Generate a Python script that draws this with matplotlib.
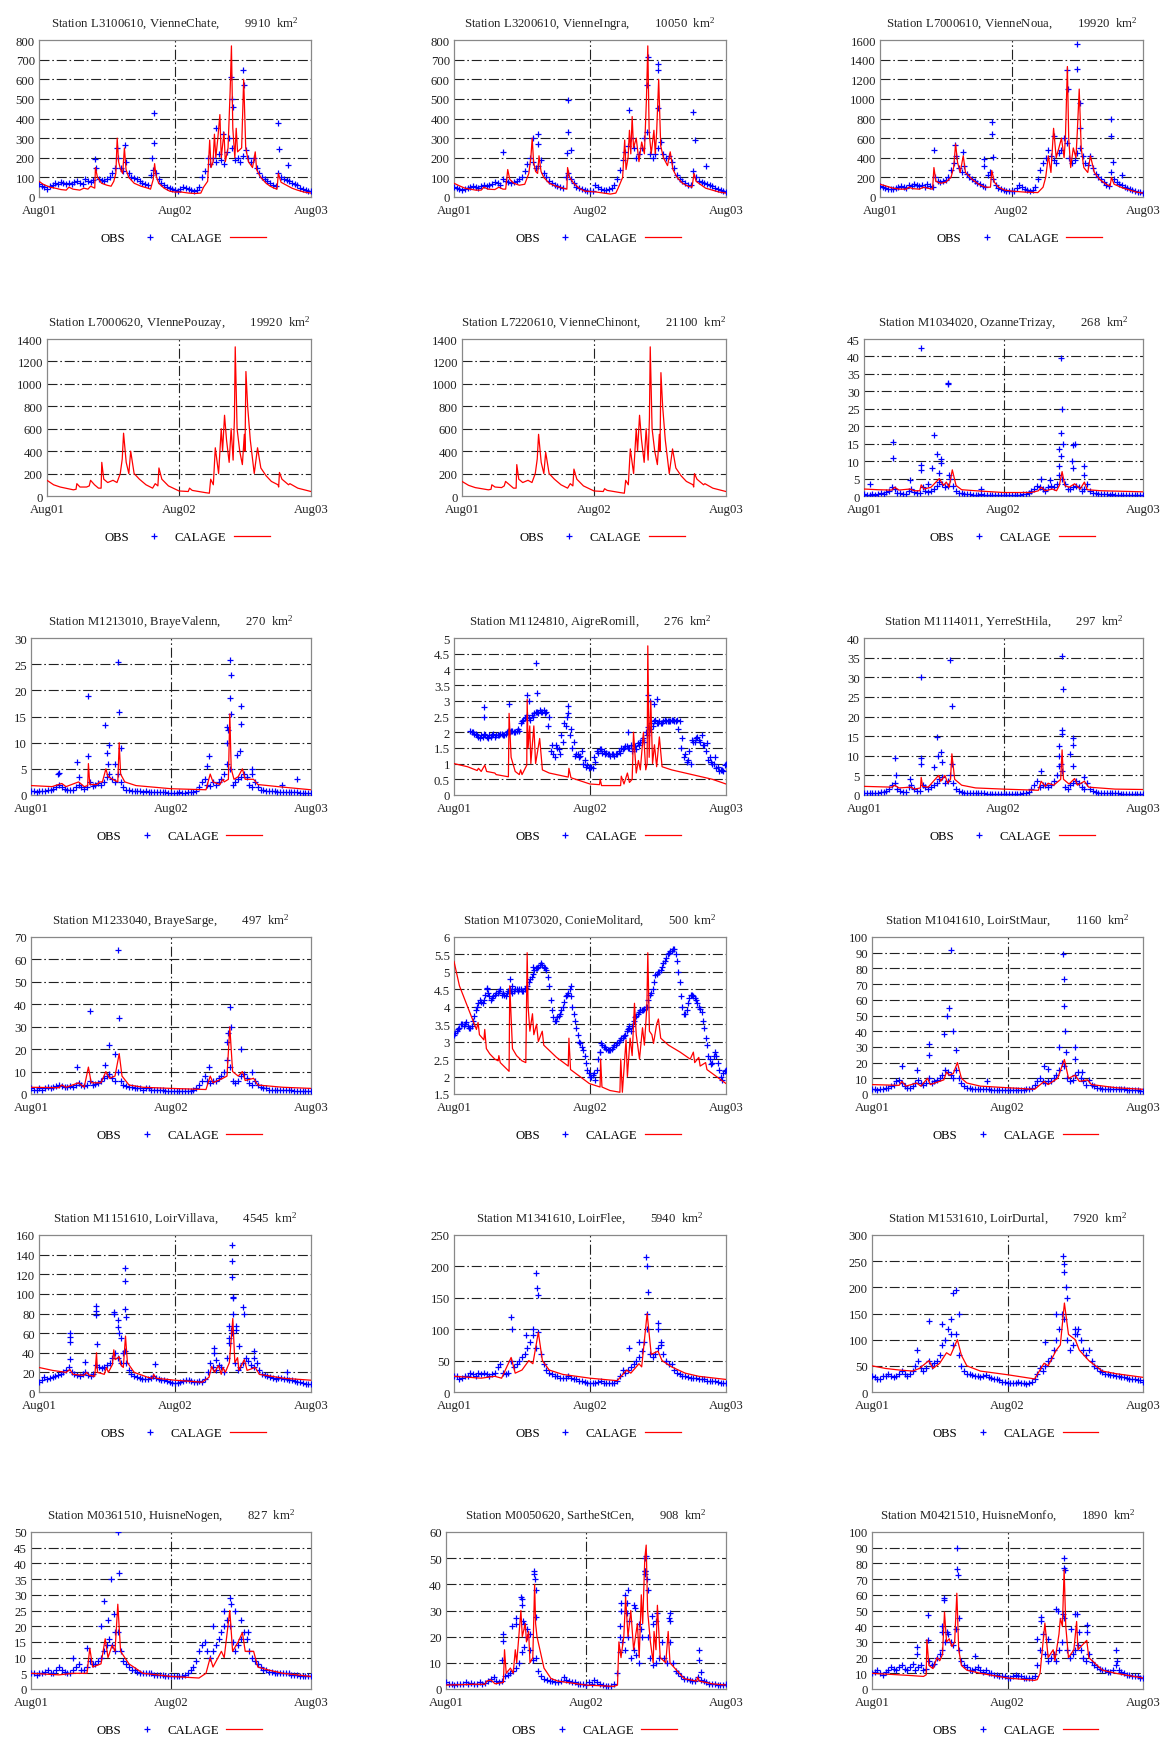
import numpy as np
import matplotlib
matplotlib.use("Agg")
import matplotlib.pyplot as plt
from matplotlib.lines import Line2D

plt.rcParams['font.family'] = ['Liberation Serif', 'DejaVu Serif']
plt.rcParams['mathtext.fontset'] = 'custom'
plt.rcParams['mathtext.rm'] = 'Liberation Serif'
plt.rcParams['mathtext.it'] = 'Liberation Serif:italic'

# ---------------- station metadata ----------------
CODES = ["L3100610", "L3200610", "L7000610", "L7000620", "L7220610", "M1034020",
         "M1213010", "M1124810", "M1114011", "M1233040", "M1073020", "M1041610",
         "M1151610", "M1341610", "M1531610", "M0361510", "M0050620", "M0421510"]
NAMES = ["VienneChate", "VienneIngra", "VienneNoua", "VIennePouzay", "VienneChinont", "OzanneTrizay",
         "BrayeValenn", "AigreRomill", "YerreStHila", "BrayeSarge", "ConieMolitard", "LoirStMaur",
         "LoirVillava", "LoirFlee", "LoirDurtal", "HuisneNogen", "SartheStCen", "HuisneMonfo"]
AREAS = ["9910", "10050", "19920", "19920", "21100", "268",
         "270", "276", "297", "497", "500", "1160",
         "4545", "5940", "7920", "827", "908", "1890"]
Y_MIN = [0, 0, 0, 0, 0, 0, 0, 0, 0, 0, 1.5, 0, 0, 0, 0, 0, 0, 0]
Y_MAX = [800, 800, 1600, 1400, 1400, 45, 30, 5, 40, 70, 6, 100, 160, 250, 300, 50, 60, 100]
Y_STEP = [100, 100, 200, 200, 200, 5, 5, 0.5, 5, 10, 0.5, 10, 20, 50, 50, 5, 10, 10]
X_TICKS = [0, 1, 2]
X_TICK_LABELS = ["Aug01", "Aug02", "Aug03"]
LEGEND_LABELS = ["OBS", "CALAGE"]

nan = float("nan")

# ---------------- observed series (regular time step over Aug01-Aug03) ----------------
OBS_01 = [65,55,50,40,55,60,70,65,75,70,65,
          70,65,75,80,70,65,90,80,75,85,
          150,90,85,80,90,100,120,150,200,150,
          130,180,120,100,95,90,80,70,65,60,
          110,140,120,90,70,60,50,45,40,35,
          30,40,50,45,40,35,30,35,50,100,
          130,200,170,200,180,220,190,170,230,300,
          250,190,200,180,210,240,200,180,200,150,
          120,100,90,80,70,60,55,120,100,90,
          85,80,70,65,60,45,40,35,30,30]
OBS_02 = [50,45,40,35,40,45,50,55,50,45,55,
          60,55,60,65,75,70,60,90,80,75,
          70,75,80,90,100,130,170,200,180,150,
          160,190,120,100,80,70,60,55,50,45,
          100,120,90,70,50,45,40,35,30,30,
          30,60,50,40,35,35,40,45,60,90,
          140,190,230,260,300,250,200,220,250,300,
          330,220,200,220,250,280,220,200,210,180,
          150,110,90,80,70,60,60,130,100,80,
          75,70,65,60,55,45,40,35,30,28]
OBS_03 = [110,100,90,85,80,85,90,100,110,100,95,
          120,110,130,120,110,120,100,130,110,100,
          200,160,150,160,170,200,280,350,420,300,
          250,320,230,200,180,160,140,130,110,100,
          220,250,180,120,90,80,70,65,60,60,
          60,90,120,100,80,70,60,70,100,180,
          280,350,400,480,420,380,350,450,480,600,
          550,400,350,380,450,500,420,350,330,420,
          300,230,200,180,150,120,110,250,180,150,
          130,120,100,90,80,70,60,55,50,45]
OBS_04 = []
OBS_05 = []
OBS_06 = [0.5,0.4,0.3,0.5,0.4,0.6,0.8,0.7,1.2,1.5,2.5,
          2.0,1.0,0.8,0.6,0.5,1.5,2.0,1.2,0.8,1.0,
          2.5,1.5,1.2,1.5,2.0,3.0,4.0,3.5,2.5,3.0,
          5.0,3.0,1.5,1.0,0.8,0.6,0.5,0.5,0.4,0.4,
          0.4,0.5,0.4,0.3,0.3,0.3,0.3,0.3,0.3,0.3,
          0.3,0.3,0.4,0.3,0.3,0.4,0.5,0.6,0.8,1.5,
          2.0,3.0,2.5,2.0,1.5,2.5,3.0,2.5,3.5,6.0,
          5.0,3.5,2.0,2.0,2.5,3.0,2.5,1.5,2.0,3.5,
          1.5,1.0,0.8,0.6,0.5,0.5,0.5,0.4,0.5,0.4,
          0.4,0.3,0.4,0.3,0.3,0.3,0.3,0.3,0.2,0.2]
OBS_07 = [0.8,0.7,0.6,0.8,0.7,0.8,0.9,1.0,1.2,1.5,2.0,
          1.5,1.2,1.0,0.9,1.0,1.5,2.0,1.5,1.2,1.5,
          2.5,1.8,2.0,2.2,2.0,2.5,3.5,4.0,3.0,2.5,
          4.0,2.5,1.5,1.0,0.9,0.8,0.8,0.7,0.7,0.6,
          0.7,0.6,0.6,0.5,0.6,0.5,0.5,0.5,0.4,0.4,
          0.4,0.4,0.5,0.4,0.4,0.5,0.5,0.6,0.8,1.5,
          2.5,3.0,2.0,1.8,2.5,2.0,2.5,3.0,4.0,6.0,
          5.0,2.0,2.5,3.0,3.5,4.0,3.5,2.0,1.5,2.5,
          1.5,1.0,0.9,0.8,0.8,0.7,0.7,0.6,0.6,0.6,
          0.6,0.5,0.5,0.5,0.5,0.4,0.4,0.4,0.4,0.4]
OBS_08 = [nan,nan,nan,nan,nan,nan,2.05,2.0,1.95,1.85,1.9,
          1.95,1.85,1.9,1.9,1.85,1.9,1.95,1.9,1.95,2.05,
          2.05,2.0,2.05,2.05,2.35,2.45,2.55,2.4,2.5,2.65,
          2.6,2.65,2.7,2.65,2.5,1.6,1.2,1.5,1.3,1.7,
          2.2,2.6,2.1,1.7,1.3,1.2,1.4,1.1,0.95,0.9,
          0.85,1.05,1.35,1.45,1.4,1.35,1.3,1.3,1.25,1.3,
          1.35,1.45,1.55,1.5,1.6,1.45,1.45,1.6,1.75,1.7,
          1.9,2.1,2.2,2.4,2.3,2.3,2.35,2.35,2.35,2.4,
          2.35,2.4,2.35,1.8,1.3,1.1,1.0,1.7,1.8,1.75,
          1.9,1.6,1.65,1.2,1.0,1.2,0.9,0.8,0.75,1.0]
OBS_09 = [0.5,0.5,0.4,0.5,0.5,0.6,0.7,0.8,1.0,1.5,2.5,
          3.0,1.5,1.0,0.8,0.7,2.0,2.5,1.5,1.0,1.0,
          2.5,2.0,1.5,2.0,2.5,3.0,4.0,4.5,3.0,3.5,
          5.0,3.0,1.5,1.0,0.8,0.6,0.5,0.5,0.5,0.4,
          0.4,0.4,0.4,0.3,0.3,0.3,0.3,0.3,0.3,0.3,
          0.3,0.3,0.3,0.3,0.3,0.3,0.4,0.5,0.8,1.5,
          2.5,3.5,2.0,2.5,2.5,2.0,2.5,3.5,5.0,7.5,
          6.0,2.0,1.5,2.5,3.0,3.5,3.0,2.0,1.5,3.0,
          1.5,1.0,0.7,0.6,0.5,0.5,0.4,0.4,0.4,0.4,
          0.4,0.3,0.3,0.3,0.3,0.3,0.3,0.3,0.3,0.3]
OBS_10 = [2.5,2.0,2.0,2.5,2.0,2.5,3.0,2.5,3.0,3.5,4.0,
          3.5,3.0,3.0,3.5,3.0,4.0,5.0,4.0,3.5,4.0,
          6.0,4.0,4.5,5.0,6.0,7.0,8.0,9.0,7.0,6.0,
          10.0,6.0,4.0,3.5,3.0,3.0,2.5,2.5,2.5,2.0,
          2.5,2.5,2.0,2.0,2.0,2.0,2.0,1.5,1.5,1.5,
          1.5,1.5,1.5,1.5,1.5,1.5,1.5,2.0,2.5,4.0,
          6.0,8.0,6.0,5.0,6.0,6.0,7.0,8.0,10.0,15.0,
          12.0,6.0,5.0,6.0,8.0,9.0,7.0,5.0,4.0,6.0,
          4.0,3.0,2.5,2.5,2.0,2.0,2.0,2.0,2.0,2.0,
          2.0,2.0,2.0,1.5,1.5,1.5,1.5,1.5,1.5,1.5]
OBS_11 = [3.2,3.3,3.4,3.5,3.5,3.45,3.4,3.6,3.9,4.1,4.15,
          4.2,4.5,4.3,4.25,4.35,4.4,4.5,4.4,4.3,4.45,
          4.45,4.45,4.5,4.5,4.45,4.5,4.6,4.8,4.95,5.1,
          5.15,5.25,5.15,5.05,4.6,3.9,3.6,3.7,3.8,4.0,
          4.3,4.4,4.3,3.8,3.4,3.0,2.85,2.6,2.2,2.0,
          2.05,1.9,2.5,2.95,2.85,2.8,2.75,2.8,2.9,2.95,
          3.05,3.1,3.2,3.35,3.3,3.6,3.75,3.85,3.9,3.95,
          4.0,4.35,4.5,4.9,5.0,5.05,5.25,5.4,5.55,5.6,
          5.65,5.3,4.7,4.0,3.8,4.1,4.35,4.3,4.2,4.0,
          3.85,3.4,2.9,2.5,2.4,2.7,2.4,2.0,2.1,2.2]
OBS_12 = [3,3,2.5,3,3,4,4,5,6,8,9,
          7,5,4,4,5,7,9,7,6,7,
          10,7,8,9,10,12,15,14,12,10,
          15,10,7,5,4,4,3.5,3,3,3,
          3,3,3,2.5,2.5,2.5,2.5,2.5,2.5,2.5,
          2.5,2.5,2.5,2.5,2.5,2.5,3,3.5,4,6,
          8,10,8,7,8,8,10,12,15,20,
          18,10,8,9,12,14,10,8,6,9,
          6,5,4,4,3.5,3.5,3,3,3,3,
          3,3,3,2.5,2.5,2.5,2.5,2.5,2,2]
OBS_13 = [10,12,15,13,14,15,16,17,18,20,22,
          25,20,18,17,16,18,20,17,16,18,
          28,25,24,25,28,30,35,40,35,30,
          40,30,22,18,16,15,14,13,13,13,
          14,16,14,13,12,12,11,10,9,9,
          9,10,11,12,12,11,10,10,11,10,
          13,20,30,25,22,28,25,20,35,50,
          60,30,22,25,30,35,32,28,25,30,
          22,18,17,16,15,14,13,14,14,13,
          13,12,12,11,10,10,9,8,8,8]
OBS_14 = [25,25,20,22,25,25,30,28,25,30,28,
          30,28,25,28,30,40,45,30,28,30,
          50,40,45,50,55,60,70,80,90,70,
          95,60,45,35,30,28,25,25,22,22,
          22,25,22,20,20,18,18,16,15,15,
          15,15,16,18,15,15,14,14,15,18,
          25,35,30,35,40,45,50,55,65,80,
          100,60,55,60,70,75,60,50,45,45,
          35,30,28,26,25,24,23,22,22,20,
          20,20,18,18,17,17,16,15,15,14]
OBS_15 = [30,28,25,25,30,30,35,30,28,30,35,
          40,35,30,35,40,50,60,45,40,45,
          60,50,55,60,70,90,100,120,110,90,
          110,70,50,40,35,35,32,30,30,28,
          30,32,28,26,25,24,22,20,20,18,
          18,17,18,20,18,17,16,18,20,25,
          35,45,40,50,60,65,80,100,120,150,
          140,100,80,90,110,120,100,80,70,80,
          60,50,45,40,38,35,35,33,32,30,
          30,28,28,27,25,25,24,22,22,20]
OBS_16 = [5,5,4.5,5,5,5.5,6,5,5,6,7,
          6,5.5,5,5,6,7,8,6,6,7,
          9,8,8,9,10,12,14,16,14,12,
          18,12,9,8,7,6,6,5.5,5,5,
          5,5,5,4.5,4.5,4.5,4.5,4,4,4,
          4,4,4,4,4.5,5,6,7,9,12,
          14,15,12,10,12,14,16,18,20,22,
          20,15,12,14,16,18,16,12,10,9,
          8,7,6,6,5.5,5.5,5,5,5,5,
          5,5,4.5,4.5,4.5,4,4,4,4,4]
OBS_17 = [2.5,2.0,1.8,1.5,2.0,1.8,2.0,2.5,2.0,2.2,2.0,
          2.0,2.5,2.0,2.2,3.0,4.0,4.5,3.0,2.5,3.0,
          5.0,5.5,6.0,7.0,8.0,10.0,14.0,16.0,20.0,15.0,
          11.0,12.0,7.0,5.0,4.0,3.5,3.0,3.0,2.8,2.5,
          3.0,4.5,3.5,3.0,2.5,2.5,2.0,2.0,1.8,1.5,
          2.5,2.0,3.5,2.5,2.0,1.5,1.2,1.0,1.2,2.0,
          6.0,14.0,18.0,15.0,20.0,12.0,15.0,13.0,10.0,20.0,
          45.0,20.0,12.0,9.0,10.0,12.0,18.0,12.0,10.0,18.0,
          10.0,7.0,6.0,5.0,4.0,4.0,3.5,3.0,3.0,4.5,
          3.5,3.0,2.5,2.0,2.0,1.8,1.5,1.5,1.5,2.0]
OBS_18 = [10,11,12,10,9,11,12,14,13,12,14,
          15,13,12,14,16,12,14,15,12,13,
          18,15,16,20,22,25,30,35,30,28,
          38,25,18,15,14,12,12,13,14,12,
          11,12,10,10,9,9,8,8,8,7,
          7,8,9,8,8,7,7,7,7,8,
          15,25,35,22,18,20,22,18,25,30,
          45,25,20,22,25,28,25,20,18,22,
          17,15,14,13,12,12,11,11,12,15,
          12,11,10,9,9,8,8,8,7,7]

# extra observations between the regular steps (dense gauges)
OBS_08_MID = [nan,nan,nan,nan,nan,nan,2.0,1.95,1.9,1.8,
              1.85,1.9,1.8,1.85,1.95,1.9,1.9,1.95,1.9,2.0,
              2.0,2.05,2.0,2.1,2.3,2.4,2.5,2.45,2.55,2.6,
              2.65,2.7,2.65,2.6,2.2,1.4,1.3,1.6,1.45,1.9,
              2.3,2.5,1.9,1.5,1.25,1.3,1.25,1.0,0.9,0.85,
              0.9,1.2,1.4,1.45,1.35,1.3,1.3,1.25,1.3,1.3,
              1.4,1.5,1.5,1.55,1.5,1.4,1.55,1.65,1.7,1.8,
              2.0,2.15,2.3,2.35,2.3,2.35,2.3,2.4,2.35,2.35,
              2.4,2.35,2.1,1.5,1.2,1.05,1.4,1.75,1.7,1.85,
              1.7,1.6,1.4,1.1,1.05,1.0,0.85,0.75,0.8,0.95]
OBS_11_MID = [3.25,3.35,3.5,3.45,3.55,3.4,3.45,3.75,4.0,4.2,
              4.1,4.35,4.4,4.2,4.3,4.4,4.45,4.35,4.35,4.4,
              4.5,4.4,4.5,4.45,4.5,4.45,4.55,4.7,4.85,5.05,
              5.1,5.2,5.2,5.1,4.85,4.2,3.7,3.6,3.75,3.9,
              4.15,4.35,4.5,4.0,3.6,3.2,2.95,2.75,2.4,2.1,
              2.0,2.1,2.2,2.7,2.9,2.85,2.75,2.75,2.85,2.9,
              3.0,3.1,3.15,3.3,3.4,3.45,3.7,3.8,3.9,3.9,
              4.0,4.2,4.4,4.7,4.95,5.0,5.15,5.3,5.5,5.6,
              5.65,5.5,5.0,4.3,3.8,3.9,4.25,4.35,4.25,4.1,
              3.95,3.6,3.1,2.6,2.35,2.6,2.6,2.2,1.9,2.15]

# ---------------- isolated observed flood values (day, value) ----------------
PEAKS_01 = [(0.415,195),(0.575,250),(0.63,265),(0.845,430),(0.845,275),(0.83,200),(1.41,610),(1.42,500),
            (1.5,645),(1.51,570),(1.76,375),(1.765,245),(1.83,165),(1.3,350),(1.35,320),(1.43,460)]
PEAKS_02 = [(0.36,230),(0.58,300),(0.62,320),(0.62,270),(0.83,225),(0.84,495),(0.84,330),(0.86,240),
            (1.29,445),(1.43,715),(1.42,570),(1.5,680),(1.5,645),(1.5,455),(1.76,435),(1.77,290),(1.85,160)]
PEAKS_03 = [(0.41,480),(0.57,530),(0.63,460),(0.79,390),(0.79,320),(0.85,760),(0.855,640),(0.86,410),
            (1.32,620),(1.42,1290),(1.43,1100),(1.5,1560),(1.5,1300),(1.52,960),(1.52,700),(1.76,800),
            (1.76,620),(1.77,360),(1.84,220)]
PEAKS_04 = []
PEAKS_05 = []
PEAKS_06 = [(0.21,15.5),(0.21,11),(0.04,3.5),(0.33,4.5),(0.41,9),(0.41,7.5),(0.5,17.5),(0.52,12),(0.46,3.5),
            (0.55,10.5),(0.55,9.5),(0.49,8),(0.54,6.5),(0.6,32.5),(0.6,32),(0.61,6),(0.84,2),(0.41,42.5),
            (1.41,39.5),(1.42,25),(1.415,18),(1.43,15),(1.4,13.5),(1.41,11.5),(1.4,8.5),(1.5,14.5),
            (1.51,15),(1.49,10),(1.5,8),(1.58,8.5),(1.58,6),(1.27,5),(1.33,4.5)]
PEAKS_07 = [(0.19,4),(0.33,6.3),(0.41,19),(0.41,7.5),(0.53,13.3),(0.54,8),(0.56,9.5),(0.62,25.5),(0.63,15.8),
            (0.64,9),(0.6,6),(0.55,6),(0.34,3.5),(1.27,7.5),(1.26,5.5),(1.4,13),(1.41,12.5),(1.42,25.8),
            (1.425,23),(1.42,18.5),(1.43,15.5),(1.4,10),(1.5,17),(1.5,13.5),(1.49,8.5),(1.47,7.7),(1.58,5),
            (1.58,4),(1.79,2),(1.9,3),(0.2,4.2)]
PEAKS_08 = [(0.22,2.8),(0.22,2.5),(0.405,2.9),(0.535,3.2),(0.55,3.0),(0.6,4.2),(0.61,3.25),(0.84,2.85),
            (1.43,3.2),(1.44,3.0),(1.47,2.9),(1.49,3.05),(1.28,2.0)]
PEAKS_09 = [(0.22,9.5),(0.23,5),(0.33,4),(0.41,30),(0.41,9.5),(0.41,8),(0.52,14.7),(0.53,10),(0.55,11),
            (0.56,8.5),(0.5,7.2),(0.62,34.5),(0.63,22.8),(0.63,8),(1.27,6),(1.4,12.5),(1.4,10),(1.42,35.3),
            (1.425,27),(1.42,16.5),(1.42,15.5),(1.41,7.8),(1.48,10.5),(1.5,14.5),(1.5,12.8),(1.5,7.5),(1.58,4.5)]
PEAKS_10 = [(0.42,37),(0.56,22),(0.6,18),(0.62,64),(0.63,34),(0.53,13),(0.33,12),(1.4,23),(1.42,39),
            (1.43,30),(1.41,27),(1.5,20),(1.27,12),(1.58,10)]
PEAKS_11 = [(0.24,4.55),(0.41,4.8),(0.43,4.6),(0.58,5.15),(0.86,4.6),(1.07,2.7),(1.29,3.45)]
PEAKS_12 = [(0.22,18),(0.33,15),(0.42,32),(0.42,25),(0.53,38),(0.55,50),(0.57,55),(0.58,92),(0.6,40),
            (0.62,28),(0.85,8),(1.27,18),(1.3,16),(1.38,30),(1.41,89),(1.415,73),(1.42,56),(1.425,40),
            (1.43,27),(1.5,30),(1.5,22),(1.55,14)]
PEAKS_13 = [(0.23,60),(0.23,56),(0.23,51),(0.23,34),(0.34,31),(0.42,88),(0.42,83),(0.42,78),(0.43,49),
            (0.55,82),(0.555,80),(0.58,73),(0.58,66),(0.59,60),(0.6,55),(0.63,126),(0.63,113),(0.63,85),
            (0.64,76),(0.63,42),(0.85,29),(1.29,45),(1.29,40),(1.3,33),(1.4,67),(1.41,63),(1.42,150),
            (1.42,134),(1.42,117),(1.425,96),(1.43,97),(1.43,80),(1.45,67),(1.45,63),(1.47,47),(1.5,87),
            (1.51,80),(1.58,42),(1.58,35),(1.82,20),(1.4,55)]
PEAKS_14 = [(0.42,120),(0.43,100),(0.53,90),(0.6,190),(0.61,165),(0.62,155),(0.58,100),(1.29,70),(1.36,80),
            (1.41,215),(1.42,200),(1.43,160),(1.42,125),(1.5,110),(1.5,100),(1.52,80)]
PEAKS_15 = [(0.42,135),(0.52,130),(0.58,140),(0.6,190),(0.62,195),(0.64,150),(0.33,80),(1.28,95),(1.36,150),
            (1.41,260),(1.415,245),(1.42,230),(1.43,200),(1.44,180),(1.5,120),(1.51,110)]
PEAKS_16 = [(0.3,10),(0.4,13),(0.5,20),(0.52,28),(0.55,22),(0.57,35),(0.59,24),(0.62,50),(0.63,37),(0.6,18),
            (1.3,20),(1.38,25),(1.42,29),(1.43,27),(1.46,25),(1.5,22),(1.55,18)]
PEAKS_17 = [(0.41,21),(0.41,18.5),(0.4,11),(0.47,24),(0.5,27),(0.5,25),(0.535,35),(0.54,34.5),(0.54,32),
            (0.55,26),(0.56,25),(0.58,23),(0.63,45),(0.63,44),(0.635,42),(0.64,38),(0.64,27.5),(0.6,21),
            (1.25,33),(1.25,30),(1.24,24),(1.24,20),(1.28,36),(1.29,33),(1.3,38),(1.29,29),(1.31,26),
            (1.34,32),(1.35,31),(1.38,25),(1.39,23),(1.42,50),(1.43,51),(1.425,45),(1.42,44),(1.435,42),
            (1.44,38),(1.47,28),(1.48,25),(1.51,29),(1.5,26),(1.59,27),(1.6,29),(1.6,26),(1.81,15),
            (1.81,11),(1.82,6.5)]
PEAKS_18 = [(0.33,27),(0.33,22),(0.41,47),(0.41,31),(0.52,36),(0.52,40),(0.535,57),(0.535,58),(0.55,36),
            (0.63,90),(0.63,76.5),(0.635,72.5),(0.64,45),(0.76,21),(1.22,32),(1.25,46),(1.25,43),(1.3,32),
            (1.36,51),(1.37,50),(1.42,83.5),(1.42,77),(1.425,76),(1.41,48),(1.47,38),(1.5,48),(1.51,48),
            (1.53,36),(1.59,41),(1.59,36),(1.8,25),(1.81,18)]

# ---------------- simulated series CALAGE (day, value) ----------------
CAL_01 = [(0.00,80),(0.03,65),(0.08,50),(0.12,45),(0.16,38),(0.2,35),(0.22,50),(0.25,40),(0.3,35),(0.33,45),
          (0.36,40),(0.38,55),(0.41,45),(0.415,150),(0.43,100),(0.46,70),(0.5,60),(0.53,55),(0.55,80),
          (0.565,120),(0.575,300),(0.585,180),(0.6,140),(0.615,120),(0.628,250),(0.64,140),(0.66,100),
          (0.7,70),(0.75,55),(0.8,45),(0.82,40),(0.84,90),(0.85,170),(0.86,110),(0.88,70),(0.92,45),
          (0.96,30),(1.0,25),(1.05,25),(1.1,20),(1.15,18),(1.19,20),(1.21,50),(1.24,80),(1.255,290),
          (1.265,150),(1.28,180),(1.29,320),(1.3,200),(1.315,300),(1.33,420),(1.34,200),(1.36,330),
          (1.37,180),(1.39,250),(1.405,530),(1.415,770),(1.425,350),(1.44,200),(1.45,350),(1.46,230),
          (1.49,250),(1.505,600),(1.52,250),(1.54,180),(1.57,150),(1.59,230),(1.6,140),(1.63,100),
          (1.67,70),(1.7,55),(1.73,45),(1.75,40),(1.76,120),(1.78,75),(1.82,60),(1.86,45),(1.9,35),
          (1.95,25),(2.0,20)]
CAL_02 = [(0.00,70),(0.03,60),(0.08,45),(0.12,40),(0.16,35),(0.2,35),(0.22,50),(0.25,40),(0.3,38),(0.33,50),
          (0.36,40),(0.38,40),(0.395,140),(0.41,90),(0.44,70),(0.48,60),(0.52,65),(0.55,120),(0.565,200),
          (0.575,300),(0.585,180),(0.6,130),(0.615,120),(0.625,210),(0.64,130),(0.66,100),(0.7,70),
          (0.75,55),(0.8,45),(0.83,40),(0.835,150),(0.85,100),(0.88,70),(0.92,45),(0.96,30),(1.0,28),
          (1.05,25),(1.1,20),(1.15,15),(1.19,20),(1.21,50),(1.24,100),(1.255,290),(1.265,140),(1.28,200),
          (1.29,340),(1.3,220),(1.31,410),(1.32,250),(1.34,300),(1.36,180),(1.38,280),(1.4,220),
          (1.415,500),(1.425,770),(1.435,330),(1.45,220),(1.47,340),(1.48,220),(1.49,330),(1.505,600),
          (1.52,260),(1.54,200),(1.57,160),(1.59,230),(1.61,140),(1.64,100),(1.68,70),(1.72,55),
          (1.75,50),(1.765,120),(1.78,80),(1.82,60),(1.85,45),(1.9,35),(1.95,25),(2.0,20)]
CAL_03 = [(0.0,130),(0.05,110),(0.1,90),(0.15,80),(0.2,80),(0.22,100),(0.25,85),(0.3,80),(0.33,100),(0.36,90),
          (0.4,80),(0.41,300),(0.425,160),(0.46,140),(0.5,150),(0.54,200),(0.56,300),(0.575,540),(0.59,350),
          (0.61,250),(0.633,420),(0.65,250),(0.7,180),(0.75,130),(0.8,100),(0.84,100),(0.85,270),(0.87,150),
          (0.9,100),(0.95,70),(1.0,60),(1.1,50),(1.2,45),(1.24,100),(1.26,200),(1.28,420),(1.3,250),
          (1.32,700),(1.34,400),(1.36,500),(1.38,600),(1.4,400),(1.41,600),(1.425,1330),(1.435,600),
          (1.45,300),(1.47,500),(1.49,400),(1.5,650),(1.515,1100),(1.53,500),(1.55,300),(1.58,250),
          (1.6,420),(1.63,250),(1.67,180),(1.72,130),(1.75,110),(1.76,200),(1.78,130),(1.85,90),(1.9,70),
          (1.95,50),(2.0,40)]
CAL_04 = [(0.0,140),(0.05,100),(0.1,80),(0.2,55),(0.22,60),(0.226,110),(0.25,80),(0.3,80),(0.32,90),(0.33,140),
          (0.36,100),(0.39,70),(0.41,70),(0.415,300),(0.43,150),(0.46,120),(0.5,140),(0.53,120),(0.555,200),
          (0.57,330),(0.58,560),(0.6,300),(0.62,200),(0.634,400),(0.66,200),(0.7,150),(0.75,100),(0.8,70),
          (0.82,110),(0.84,90),(0.848,250),(0.87,150),(0.92,90),(1.0,45),(1.07,40),(1.08,70),(1.1,50),
          (1.2,30),(1.23,25),(1.24,150),(1.26,100),(1.275,430),(1.3,200),(1.32,600),(1.33,400),(1.345,720),
          (1.36,500),(1.38,300),(1.395,600),(1.41,320),(1.42,700),(1.426,1330),(1.44,600),(1.46,400),
          (1.48,280),(1.495,550),(1.5,400),(1.507,1110),(1.52,800),(1.54,500),(1.57,200),(1.595,430),
          (1.62,250),(1.66,180),(1.7,130),(1.75,100),(1.755,80),(1.761,210),(1.78,150),(1.83,100),
          (1.84,110),(1.9,70),(2.0,40)]
CAL_05 = [(0.0,130),(0.05,95),(0.1,75),(0.2,55),(0.22,60),(0.226,100),(0.25,80),(0.3,75),(0.32,90),(0.33,130),
          (0.36,100),(0.39,70),(0.41,70),(0.415,280),(0.43,150),(0.46,120),(0.5,140),(0.53,120),(0.555,200),
          (0.57,330),(0.58,550),(0.6,300),(0.62,200),(0.634,390),(0.66,200),(0.7,150),(0.75,100),(0.8,70),
          (0.82,110),(0.84,90),(0.848,240),(0.87,150),(0.92,90),(1.0,45),(1.07,40),(1.08,65),(1.1,50),
          (1.2,30),(1.23,25),(1.24,140),(1.26,100),(1.275,420),(1.3,200),(1.32,600),(1.33,400),(1.345,720),
          (1.36,500),(1.38,300),(1.395,600),(1.41,320),(1.42,700),(1.426,1330),(1.44,600),(1.46,400),
          (1.48,280),(1.495,550),(1.5,400),(1.507,1100),(1.52,800),(1.54,500),(1.57,200),(1.595,420),
          (1.62,250),(1.66,180),(1.7,130),(1.75,100),(1.755,80),(1.761,200),(1.78,150),(1.83,100),
          (1.84,110),(1.9,70),(2.0,40)]
CAL_06 = [(0.0,2.0),(0.1,1.8),(0.2,1.7),(0.22,2.5),(0.25,1.7),(0.33,2.0),(0.36,1.5),(0.4,1.5),(0.41,3.2),
          (0.43,2.0),(0.48,2.5),(0.54,5.0),(0.57,3.0),(0.59,4.0),(0.61,2.5),(0.633,7.5),(0.66,3.0),(0.7,1.8),
          (0.8,1.5),(1.0,1.0),(1.2,1.0),(1.25,1.5),(1.27,2.5),(1.3,1.5),(1.35,2.0),(1.38,1.5),(1.4,3.0),
          (1.42,7.0),(1.44,3.0),(1.47,2.5),(1.51,3.5),(1.55,2.0),(1.58,4.0),(1.6,1.8),(1.7,1.5),(2.0,1.2)]
CAL_07 = [(0.0,1.8),(0.15,1.6),(0.22,2.2),(0.25,1.6),(0.34,2.5),(0.38,1.6),(0.405,1.8),(0.41,6.0),(0.42,2.0),
          (0.47,2.0),(0.49,2.5),(0.51,2.5),(0.535,5.0),(0.55,3.5),(0.583,3.0),(0.62,2.5),(0.63,10.0),
          (0.64,4.0),(0.67,2.5),(0.75,1.8),(1.0,1.2),(1.25,1.0),(1.28,4.0),(1.3,2.5),(1.35,2.0),(1.37,3.0),
          (1.38,2.5),(1.41,3.0),(1.42,15.5),(1.43,5.0),(1.45,3.0),(1.48,3.5),(1.51,5.0),(1.53,3.0),
          (1.59,3.0),(1.62,2.0),(1.8,1.5),(2.0,1.0)]
CAL_08 = [(0.0,1.0),(0.1,0.9),(0.17,0.78),(0.18,0.85),(0.2,0.75),(0.226,0.95),(0.24,0.75),(0.3,0.7),
          (0.31,0.65),(0.4,0.58),(0.405,2.6),(0.42,1.2),(0.45,0.75),(0.48,0.65),(0.49,0.8),(0.5,0.65),
          (0.535,0.95),(0.538,3.05),(0.545,1.5),(0.557,2.2),(0.565,1.0),(0.587,2.2),(0.6,1.0),(0.63,1.8),
          (0.65,0.8),(0.7,0.7),(0.84,0.57),(0.845,0.85),(0.86,0.55),(1.0,0.35),(1.07,0.33),(1.075,0.5),
          (1.085,0.3),(1.225,0.3),(1.23,0.6),(1.25,0.35),(1.275,0.7),(1.29,0.4),(1.31,0.5),(1.32,2.0),
          (1.34,0.7),(1.356,1.1),(1.37,0.8),(1.393,2.0),(1.41,0.8),(1.42,1.0),(1.425,4.75),(1.435,1.2),
          (1.447,3.0),(1.46,1.0),(1.474,1.6),(1.49,0.9),(1.51,1.85),(1.53,0.9),(1.6,0.8),(1.8,0.6),
          (1.9,0.5),(2.0,0.35)]
CAL_09 = [(0.0,2.2),(0.2,2.0),(0.22,2.5),(0.25,1.8),(0.335,2.0),(0.36,1.5),(0.405,1.8),(0.41,4.5),(0.42,2.2),
          (0.46,2.0),(0.535,5.0),(0.55,3.5),(0.58,5.0),(0.6,3.0),(0.62,4.0),(0.63,10.5),(0.65,4.0),(0.7,2.5),
          (0.8,1.8),(1.0,1.5),(1.25,1.2),(1.27,3.5),(1.3,2.2),(1.32,3.0),(1.36,2.5),(1.41,4.0),(1.42,11.5),
          (1.43,4.0),(1.47,2.8),(1.51,4.2),(1.53,2.5),(1.58,3.5),(1.61,2.0),(1.8,1.5),(2.0,1.4)]
CAL_10 = [(0.0,3.0),(0.2,2.8),(0.22,4.0),(0.25,3.0),(0.34,5.0),(0.38,3.0),(0.41,12.0),(0.43,5.0),(0.5,5.0),
          (0.535,10.0),(0.56,7.0),(0.6,8.0),(0.63,18.0),(0.65,8.0),(0.7,4.0),(0.8,3.0),(1.0,2.5),(1.25,2.0),
          (1.28,8.0),(1.3,5.0),(1.37,7.0),(1.4,8.0),(1.42,30.0),(1.44,10.0),(1.48,8.0),(1.51,10.0),
          (1.53,6.0),(1.59,7.0),(1.62,4.0),(1.8,3.0),(2.0,2.5)]
CAL_11 = [(0.0,5.3),(0.04,4.6),(0.09,4.1),(0.14,3.6),(0.165,3.35),(0.177,3.55),(0.187,3.2),(0.22,3.05),
          (0.226,3.35),(0.238,2.8),(0.263,2.65),(0.3,2.5),(0.325,2.45),(0.33,2.6),(0.34,2.4),(0.405,2.15),
          (0.41,4.6),(0.43,2.8),(0.46,2.6),(0.5,2.45),(0.528,2.4),(0.538,5.55),(0.545,4.0),(0.558,3.3),
          (0.577,3.8),(0.587,3.2),(0.607,3.5),(0.62,3.0),(0.649,3.3),(0.66,2.9),(0.754,2.55),(0.84,2.3),
          (0.845,3.1),(0.857,2.2),(0.926,2.0),(0.995,1.8),(1.074,1.7),(1.078,2.5),(1.088,1.7),(1.147,1.6),
          (1.22,1.55),(1.226,2.5),(1.238,1.55),(1.265,3.05),(1.275,2.0),(1.295,3.1),(1.31,2.6),(1.327,4.1),
          (1.34,3.2),(1.364,2.5),(1.386,3.4),(1.4,2.9),(1.418,4.0),(1.425,5.55),(1.437,3.3),(1.455,3.2),
          (1.467,2.95),(1.49,3.5),(1.503,3.65),(1.52,3.1),(1.577,2.9),(1.663,2.7),(1.737,2.5),(1.76,2.7),
          (1.77,2.4),(1.8,2.55),(1.81,2.3),(1.85,2.4),(1.86,2.2),(2.0,1.8)]
CAL_12 = [(0.0,6),(0.2,5.5),(0.22,8),(0.25,5),(0.33,7),(0.36,5),(0.41,10),(0.43,6),(0.53,9),(0.55,14),
          (0.57,12),(0.6,13),(0.63,20),(0.66,10),(0.7,7),(0.8,5),(1.0,4),(1.2,3),(1.27,8),(1.3,6),(1.37,10),
          (1.42,22),(1.45,10),(1.5,12),(1.53,8),(1.59,9),(1.62,6),(1.8,4),(2.0,3)]
CAL_13 = [(0.0,25),(0.1,22),(0.2,20),(0.227,23),(0.25,18),(0.33,17),(0.35,20),(0.37,17),(0.41,16),(0.423,40),
          (0.43,20),(0.48,18),(0.496,25),(0.51,20),(0.54,28),(0.55,43),(0.56,33),(0.59,36),(0.6,28),(0.62,25),
          (0.636,57),(0.65,30),(0.7,20),(0.8,15),(0.835,14),(0.843,18),(0.86,14),(1.0,12),(1.1,11),(1.2,10),
          (1.25,15),(1.27,26),(1.29,20),(1.32,27),(1.34,18),(1.352,25),(1.37,20),(1.4,30),(1.425,75),
          (1.44,30),(1.46,35),(1.47,22),(1.51,33),(1.53,22),(1.59,25),(1.62,18),(1.8,14),(2.0,12)]
CAL_14 = [(0,25),(0.2,22),(0.3,25),(0.35,22),(0.42,55),(0.45,30),(0.5,35),(0.55,50),(0.58,45),(0.62,95),
          (0.65,50),(0.7,35),(0.8,28),(1.0,22),(1.2,18),(1.27,35),(1.3,30),(1.36,45),(1.38,40),(1.42,125),
          (1.45,60),(1.5,65),(1.53,50),(1.6,40),(1.7,30),(1.8,25),(2.0,20)]
CAL_15 = [(0,50),(0.1,45),(0.2,42),(0.3,40),(0.35,45),(0.42,60),(0.45,45),(0.5,55),(0.55,75),(0.58,70),
          (0.63,100),(0.66,70),(0.7,50),(0.8,40),(1.0,33),(1.2,25),(1.27,55),(1.3,50),(1.36,80),(1.39,90),
          (1.42,170),(1.45,110),(1.5,100),(1.53,80),(1.6,60),(1.7,40),(1.8,35),(2.0,28)]
CAL_16 = [(0,5),(0.2,4.5),(0.3,5),(0.4,5),(0.42,13),(0.44,7),(0.5,8),(0.53,16),(0.55,10),(0.58,14),(0.6,12),
          (0.62,27),(0.64,12),(0.7,8),(0.8,5),(1.0,4),(1.2,3.5),(1.25,5),(1.28,10),(1.3,7),(1.36,12),
          (1.38,10),(1.42,25),(1.44,12),(1.48,15),(1.51,18),(1.53,12),(1.59,12),(1.62,7),(1.7,6),(1.8,5),
          (2.0,4)]
CAL_17 = [(0.0,1.5),(0.2,1.8),(0.28,1.8),(0.29,3.0),(0.32,3.5),(0.35,2.0),(0.41,2.5),(0.418,15.0),(0.43,6.0),
          (0.46,8.0),(0.48,6.0),(0.495,15.0),(0.505,10.0),(0.52,20.0),(0.535,30.0),(0.545,20.0),(0.566,25.0),
          (0.575,18.0),(0.59,22.0),(0.6,10.0),(0.62,12.0),(0.633,40.0),(0.64,25.0),(0.65,20.0),(0.7,8.0),
          (0.75,4.0),(0.8,3.0),(1.0,1.5),(1.2,1.0),(1.225,1.5),(1.235,18.0),(1.25,12.0),(1.27,20.0),
          (1.283,35.0),(1.3,20.0),(1.32,30.0),(1.34,15.0),(1.367,25.0),(1.38,12.0),(1.395,36.0),(1.405,25.0),
          (1.42,50.0),(1.43,55.0),(1.44,30.0),(1.46,18.0),(1.48,10.0),(1.486,22.0),(1.5,15.0),(1.51,32.0),
          (1.53,12.0),(1.57,10.0),(1.587,22.0),(1.6,10.0),(1.65,7.0),(1.7,4.0),(1.79,3.0),(1.797,4.5),
          (1.81,3.0),(1.9,2.0),(2.0,1.5)]
CAL_18 = [(0.0,10),(0.2,9),(0.3,8.5),(0.38,8),(0.4,9),(0.405,31.5),(0.42,15),(0.45,13),(0.48,20),(0.5,18),
          (0.52,22),(0.535,49),(0.55,30),(0.57,32),(0.59,27),(0.61,30),(0.626,61),(0.64,25),(0.66,15),(0.7,12),
          (0.8,10),(1.0,7),(1.2,5.5),(1.22,6),(1.24,10),(1.276,42),(1.3,20),(1.337,25),(1.35,18),(1.38,35),
          (1.39,45),(1.405,40),(1.418,76),(1.43,40),(1.45,20),(1.49,25),(1.51,43),(1.52,25),(1.585,31),
          (1.6,20),(1.7,12),(1.8,10),(2.0,7)]

OBS = [OBS_01, OBS_02, OBS_03, OBS_04, OBS_05, OBS_06, OBS_07, OBS_08, OBS_09,
       OBS_10, OBS_11, OBS_12, OBS_13, OBS_14, OBS_15, OBS_16, OBS_17, OBS_18]
OBS_MID = {7: OBS_08_MID, 10: OBS_11_MID}
PEAKS = [PEAKS_01, PEAKS_02, PEAKS_03, PEAKS_04, PEAKS_05, PEAKS_06, PEAKS_07, PEAKS_08, PEAKS_09,
         PEAKS_10, PEAKS_11, PEAKS_12, PEAKS_13, PEAKS_14, PEAKS_15, PEAKS_16, PEAKS_17, PEAKS_18]
CAL = [CAL_01, CAL_02, CAL_03, CAL_04, CAL_05, CAL_06, CAL_07, CAL_08, CAL_09,
       CAL_10, CAL_11, CAL_12, CAL_13, CAL_14, CAL_15, CAL_16, CAL_17, CAL_18]

# ---------------- layout ----------------
W, H = 1162, 1740
fig = plt.figure(figsize=(W / 100, H / 100), dpi=100)
fig.patch.set_facecolor("white")

ROW_TOP = [41, 340, 639, 938, 1236, 1533]
AX_H = 157
COL_RIGHT = [311, 726, 1143]
COL_BASE = [15, 430, 848]
FS = 9.2
GRID_STYLE = (0, (9, 2.5, 1.5, 2.5))
MK = dict(ls="none", marker="+", ms=4.8, mew=0.9, color="#0000ff")

for k in range(18):
    r, c = divmod(k, 3)
    ymin, ymax, ystep = Y_MIN[k], Y_MAX[k], Y_STEP[k]
    yt = np.arange(ymin, ymax + ystep / 2, ystep)
    ylab = ["%g" % v for v in yt]
    nch = max(len(s) for s in ylab)
    left = COL_BASE[c] + 8 * nch
    right = COL_RIGHT[c]
    top = ROW_TOP[r]
    ax = fig.add_axes([left / W, 1 - (top + AX_H) / H, (right - left) / W, AX_H / H])

    for v in yt[1:-1]:
        ax.axhline(v, color="#222222", lw=0.8, ls=GRID_STYLE, zorder=1)
    ax.axvline(1, color="#222222", lw=0.8, ls=GRID_STYLE, zorder=1)

    obs = OBS[k]
    if len(obs):
        tt = np.linspace(0, 2, len(obs))
        ax.plot(tt, obs, zorder=3, **MK)
    if k in OBS_MID:
        mid = OBS_MID[k]
        step = 2.0 / len(mid)
        tm = np.arange(len(mid)) * step + step / 2
        ax.plot(tm, mid, zorder=3, **MK)
    if PEAKS[k]:
        pt, pv = zip(*PEAKS[k])
        ax.plot(pt, pv, zorder=3, **MK)
    ct, cv = zip(*CAL[k])
    ax.plot(ct, cv, color="#ff0000", lw=0.9, zorder=4)

    ax.set_xlim(0, 2)
    ax.set_ylim(ymin, ymax)
    ax.set_yticks(yt)
    ax.set_yticklabels(ylab, fontsize=FS)
    ax.set_xticks(X_TICKS)
    ax.set_xticklabels(X_TICK_LABELS, fontsize=FS)
    ax.tick_params(axis="y", length=0, pad=3, colors="#222222")
    ax.tick_params(axis="x", length=0, pad=5, colors="#222222")
    for s in ax.spines.values():
        s.set_color("#888888")
        s.set_linewidth(0.9)

    title = "Station %s, %s,        %s  km$^2$" % (CODES[k], NAMES[k], AREAS[k])
    ax.text(0.5, 1 + 17 / AX_H, title, transform=ax.transAxes, ha="center", va="center",
            fontsize=FS, color="#222222")

    handles = [Line2D([], [], **MK),
               Line2D([], [], color="#ff0000", lw=0.9)]
    ax.legend(handles, LEGEND_LABELS, loc="center", bbox_to_anchor=(0.53, -41 / AX_H), ncol=2,
              frameon=False, markerfirst=False, fontsize=FS, handlelength=2.8,
              handletextpad=0.6, columnspacing=0.2, borderaxespad=0)

fig.savefig("out.png", dpi=100, facecolor="white")
